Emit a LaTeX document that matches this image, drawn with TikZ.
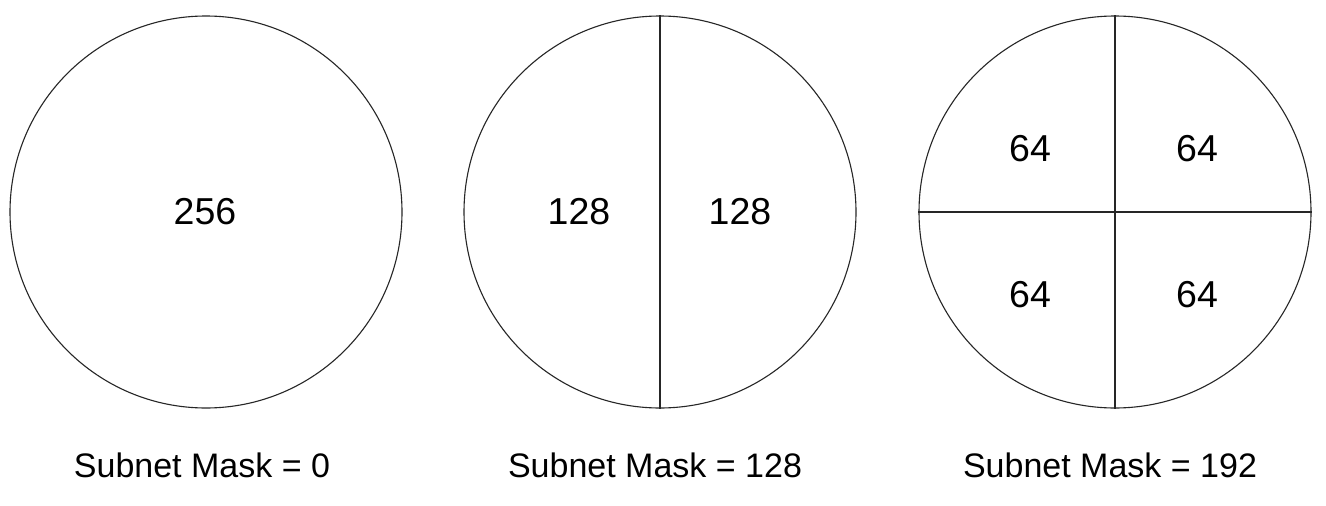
\documentclass[tikz,border=0pt]{standalone}
\usepackage{fontspec}
\setmainfont{Liberation Sans}
\tikzset{
  ring/.style={circle, draw=black!85, line width=1.1pt, minimum size=392pt, inner sep=0pt},
  divider/.style={draw=black!85, line width=1.1pt},
  num/.style={font=\fontsize{37.5}{42}\selectfont, inner sep=0pt},
  masklabel/.style={font=\fontsize{34}{39}\selectfont, inner sep=0pt}
}
\begin{document}
\begin{tikzpicture}[x=1pt,y=-1pt]
\useasboundingbox (0,0) rectangle (1326,506);
\fill[white] (0,0) rectangle (1326,506);
% circle 1
\node[ring] (c1) at (206,212) {};
\node[num] (t1) at (205,212) {256};
\node[masklabel] (l1) at (202,465) {Subnet Mask = 0};
% circle 2
\node[ring] (c2) at (660,212) {};
\path[divider] (c2.north) -- (c2.south);
\node[num] (t2a) at (579,212) {128};
\node[num] (t2b) at (740,212) {128};
\node[masklabel] (l2) at (655,465) {Subnet Mask = 128};
% circle 3
\node[ring] (c3) at (1115,212) {};
\path[divider] (c3.north) -- (c3.south);
\path[divider] (c3.west) -- (c3.east);
\node[num] (t3a) at (1030,149) {64};
\node[num] (t3b) at (1197,149) {64};
\node[num] (t3c) at (1030,295) {64};
\node[num] (t3d) at (1197,295) {64};
\node[masklabel] (l3) at (1110,465) {Subnet Mask = 192};
\end{tikzpicture}
\end{document}
